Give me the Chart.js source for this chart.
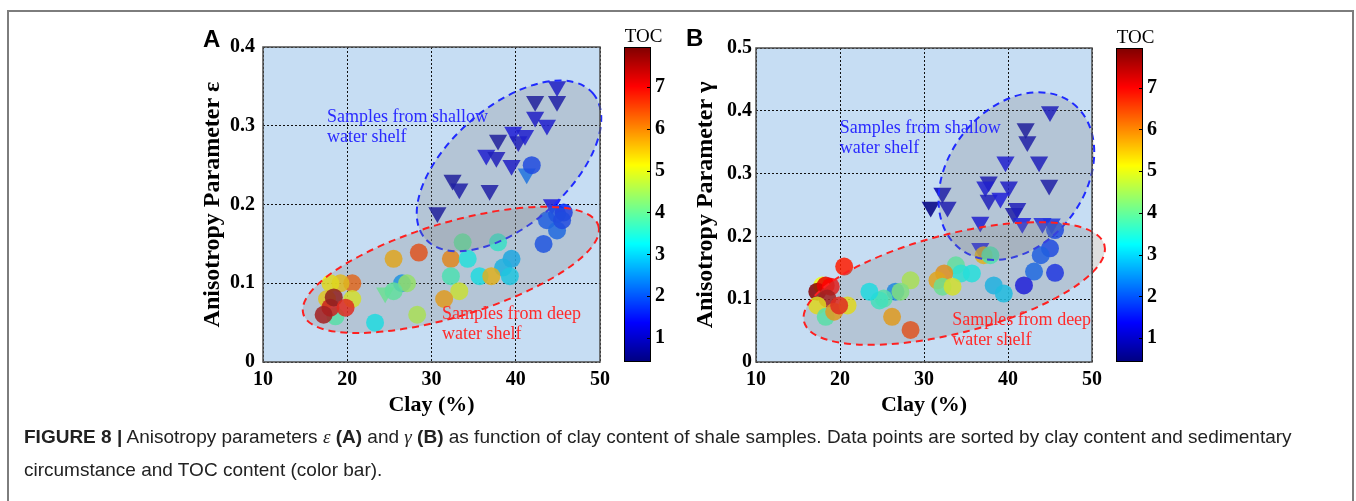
<!DOCTYPE html>
<html>
<head>
<meta charset="utf-8">
<script src="https://cdn.jsdelivr.net/npm/chart.js@4.4.1/dist/chart.umd.min.js"></script>
<style>
  body { margin: 0; background: #fff; width: 1356px; height: 501px; overflow: hidden; position: relative; font-family: "Liberation Sans", Arial, sans-serif; }
  #frame { position: absolute; left: 7px; top: 10px; width: 1347px; height: 520px; border: 2px solid #7d7d7d; border-bottom: none; box-sizing: border-box; }
  #chartA { position: absolute; left: 0; top: 0; }
  #chartB { position: absolute; left: 680px; top: 0; }
  .panel { position: absolute; font: bold 24px "Liberation Sans", Arial, sans-serif; line-height: 24px; color: #000; }
  #caption { position: absolute; left: 24px; top: 420px; font-size: 19px; line-height: 33px; color: #222; white-space: nowrap; }
  #caption b { font-weight: bold; }
  #caption i { font-family: "Liberation Serif", serif; }
</style>
</head>
<body>
<div id="frame"></div>
<canvas id="chartA" width="680" height="430"></canvas>
<canvas id="chartB" width="676" height="430"></canvas>
<div class="panel" style="left:203px; top:27px;">A</div>
<div class="panel" style="left:686px; top:26px;">B</div>
<div id="caption"><b>FIGURE 8 |</b> Anisotropy parameters <i>ε</i> <b>(A)</b> and <i>γ</i> <b>(B)</b> as function of clay content of shale samples. Data points are sorted by clay content and sedimentary<br>circumstance and TOC content (color bar).</div>
<script>
// axis ticks
const clayTicks = [10, 20, 30, 40, 50];
const epsTicks = [0, 0.1, 0.2, 0.3, 0.4];
const gammaTicks = [0, 0.1, 0.2, 0.3, 0.4, 0.5];
const tocTicks = [1, 2, 3, 4, 5, 6, 7];
const tocMin = 0.43, tocMax = 7.95;

// panel A, triangles
const aTriClay = [24.5, 41.3, 30.7, 32.5, 33.3, 36.9, 36.5, 37.7, 37.9, 39.5, 39.7, 40.3, 41.1, 42.3, 42.3, 43.7, 44.9, 44.9, 44.3];
const aTriEps  = [0.088, 0.239, 0.190, 0.231, 0.220, 0.218, 0.263, 0.260, 0.282, 0.250, 0.292, 0.280, 0.288, 0.331, 0.311, 0.301, 0.350, 0.331, 0.200];
const aTriToc  = [4.0, 2.2, 0.7, 0.7, 0.8, 0.8, 1.2, 1.0, 0.7, 1.1, 1.3, 1.0, 1.2, 0.7, 1.1, 1.2, 1.1, 0.8, 1.3];

// panel A, circles
const aDotClay = [26.5, 41.9, 43.7, 44.9, 45.7, 44.9, 45.5, 43.3, 37.9, 33.7, 32.3, 34.3, 39.5, 38.5, 39.3, 32.3, 35.7, 37.1, 33.3, 31.5, 28.3, 23.3, 28.5, 25.5, 27.1, 25.5, 20.6, 19.2, 18.0, 20.6, 17.6, 18.6, 18.0, 18.4, 19.8, 17.2];
const aDotEps  = [0.100, 0.250, 0.180, 0.188, 0.190, 0.167, 0.180, 0.150, 0.152, 0.152, 0.131, 0.131, 0.131, 0.120, 0.109, 0.109, 0.109, 0.109, 0.090, 0.080, 0.060, 0.050, 0.139, 0.131, 0.100, 0.090, 0.100, 0.100, 0.100, 0.080, 0.080, 0.058, 0.069, 0.082, 0.069, 0.060];
const aDotToc  = [2.5, 1.8, 2.0, 1.9, 1.7, 2.1, 1.8, 1.9, 3.5, 3.9, 6.0, 3.3, 2.7, 2.8, 3.0, 3.7, 3.2, 5.6, 4.9, 5.8, 4.6, 3.2, 6.5, 5.7, 4.4, 3.9, 6.3, 5.5, 5.2, 5.0, 5.4, 3.8, 7.2, 7.8, 6.9, 7.6];

// panel B, triangles
const bTriClay  = [36.7, 30.8, 32.2, 32.8, 36.7, 37.7, 37.3, 37.7, 39.7, 40.1, 39.1, 40.7, 41.1, 42.1, 42.3, 43.7, 45.0, 44.9, 41.7, 44.1, 45.2];
const bTriGamma = [0.181, 0.247, 0.269, 0.247, 0.223, 0.287, 0.279, 0.258, 0.319, 0.279, 0.261, 0.237, 0.245, 0.372, 0.351, 0.319, 0.399, 0.282, 0.221, 0.221, 0.220];
const bTriToc   = [1.4, 0.45, 0.8, 0.9, 1.2, 0.9, 1.2, 1.0, 1.2, 1.1, 1.3, 0.8, 1.0, 0.7, 0.8, 1.0, 1.0, 0.8, 1.4, 1.5, 1.6];

// panel B, circles
const bDotClay  = [26.6, 45.6, 45.0, 43.9, 43.1, 45.6, 41.9, 38.3, 39.5, 37.1, 37.9, 33.8, 34.4, 35.7, 32.4, 31.6, 32.2, 33.4, 28.4, 27.2, 25.2, 24.7, 23.5, 26.2, 28.4, 20.5, 17.9, 17.3, 18.3, 18.9, 18.5, 17.3, 18.3, 19.3, 20.9, 19.9];
const bDotGamma = [0.112, 0.210, 0.181, 0.170, 0.144, 0.142, 0.122, 0.122, 0.109, 0.170, 0.170, 0.154, 0.141, 0.141, 0.141, 0.130, 0.120, 0.120, 0.130, 0.112, 0.101, 0.098, 0.112, 0.072, 0.051, 0.152, 0.122, 0.112, 0.122, 0.120, 0.101, 0.090, 0.072, 0.080, 0.090, 0.090];
const bDotToc   = [2.4, 1.8, 1.8, 2.0, 2.1, 1.6, 1.3, 2.8, 2.9, 5.6, 3.7, 3.9, 3.4, 3.3, 5.9, 5.7, 4.0, 5.0, 4.6, 4.2, 3.8, 3.6, 3.2, 5.8, 6.5, 6.8, 5.0, 7.9, 7.2, 7.0, 7.6, 5.2, 3.8, 5.8, 5.2, 6.9];

const serif = '"Liberation Serif", "Times New Roman", serif';

function jet(t) {
  t = Math.min(1, Math.max(0, t));
  const c = v => Math.round(255 * Math.min(1, Math.max(0, v)));
  return [c(Math.min(4 * t - 1.5, -4 * t + 4.5)), c(Math.min(4 * t - 0.5, -4 * t + 3.5)), c(Math.min(4 * t + 0.5, -4 * t + 2.5))];
}
function tocColor(v, alpha) {
  const [r, g, b] = jet((v - tocMin) / (tocMax - tocMin));
  return 'rgba(' + r + ',' + g + ',' + b + ',' + alpha + ')';
}

const figurePlugin = {
  id: 'figure',
  beforeDraw(chart) {
    const {ctx, chartArea: a} = chart;
    ctx.save();
    ctx.fillStyle = '#c6ddf3';
    ctx.fillRect(a.left, a.top, a.right - a.left, a.bottom - a.top);
    ctx.restore();
  },
  afterDatasetsDraw(chart, args, opts) {
    const {ctx, scales} = chart;
    ctx.save();
    for (const e of opts.ellipses) {
      ctx.beginPath();
      ctx.ellipse(scales.x.getPixelForValue(e.x), scales.y.getPixelForValue(e.y), e.rx, e.ry, -e.angle * Math.PI / 180, 0, 2 * Math.PI);
      ctx.fillStyle = 'rgba(128,128,128,0.25)';
      ctx.fill();
      ctx.setLineDash([7, 5]);
      ctx.lineWidth = 2;
      ctx.strokeStyle = e.color;
      ctx.stroke();
    }
    ctx.setLineDash([]);
    ctx.font = '18px ' + serif;
    ctx.textBaseline = 'alphabetic';
    for (const n of opts.notes) {
      ctx.fillStyle = n.color;
      const x = scales.x.getPixelForValue(n.x), y = scales.y.getPixelForValue(n.y);
      n.lines.forEach((s, i) => ctx.fillText(s, x, y + i * 20));
    }
    ctx.restore();
  },
  afterDraw(chart) {
    const {ctx, chartArea: a} = chart;
    const toc = chart.scales.toc;
    ctx.save();
    // plot frame
    ctx.strokeStyle = '#4d4d4d';
    ctx.lineWidth = 1.5;
    ctx.strokeRect(a.left, a.top, a.right - a.left, a.bottom - a.top);
    // colour bar
    const x0 = a.right + 24, x1 = a.right + 51;
    for (let y = Math.floor(toc.top); y < toc.bottom; y++) {
      ctx.fillStyle = tocColor(toc.getValueForPixel(y + 0.5), 1);
      ctx.fillRect(x0, y, x1 - x0, 1);
    }
    ctx.strokeStyle = '#000';
    ctx.lineWidth = 1;
    ctx.strokeRect(x0 + 0.5, toc.top + 0.5, x1 - x0 - 1, toc.bottom - toc.top - 1);
    ctx.beginPath();
    for (const v of tocTicks) {
      const y = Math.round(toc.getPixelForValue(v)) + 0.5;
      ctx.moveTo(x1 - 4, y);
      ctx.lineTo(x1, y);
    }
    ctx.stroke();
    ctx.fillStyle = '#000';
    ctx.font = '19px ' + serif;
    ctx.textAlign = 'center';
    ctx.textBaseline = 'middle';
    ctx.fillText('TOC', (x0 + x1) / 2 + 6, a.top - 10);
    ctx.restore();
  }
};

function makePanel(id, o) {
  const tickFont = {family: serif, size: 20, weight: 'bold'};
  return new Chart(document.getElementById(id), {
    type: 'scatter',
    data: {
      datasets: [
        {
          data: o.dotClay.map((x, i) => ({x, y: o.dotVal[i]})),
          pointStyle: 'circle',
          pointRadius: 9,
          pointBorderWidth: 0,
          pointBackgroundColor: o.dotToc.map(t => tocColor(t, 0.85))
        },
        {
          data: o.triClay.map((x, i) => ({x, y: o.triVal[i]})),
          pointStyle: 'triangle',
          pointRotation: 180,
          pointRadius: 10.5,
          pointBorderWidth: 0,
          pointBackgroundColor: o.triToc.map(t => tocColor(t, 0.85))
        }
      ]
    },
    options: {
      responsive: false,
      animation: false,
      events: [],
      devicePixelRatio: 1,
      layout: {padding: o.padding},
      plugins: {
        legend: {display: false},
        tooltip: {enabled: false},
        figure: {ellipses: o.ellipses, notes: o.notes}
      },
      scales: {
        x: {
          type: 'linear', min: 10, max: 50,
          afterBuildTicks: s => { s.ticks = clayTicks.map(v => ({value: v})); },
          ticks: {font: tickFont, color: '#000', padding: 6},
          grid: {color: '#111', lineWidth: 1, drawTicks: false},
          border: {display: false, dash: [2, 2]},
          title: {display: true, text: 'Clay (%)', color: '#000', padding: 0, font: {family: serif, size: 22, weight: 'bold'}},
          afterFit: s => { s.height = 57; s.paddingLeft = 0; s.paddingRight = 0; }
        },
        y: {
          type: 'linear', min: 0, max: o.yMax,
          afterBuildTicks: s => { s.ticks = o.yTicks.map(v => ({value: v})); },
          ticks: {font: tickFont, color: '#000', padding: o.yPad, callback: v => v === 0 ? '0' : v.toFixed(1)},
          grid: {color: '#111', lineWidth: 1, drawTicks: false},
          border: {display: false, dash: [2, 2]},
          title: {display: true, text: o.yTitle, color: '#000', padding: 0, font: {family: serif, size: 24, weight: 'bold'}},
          afterFit: s => { s.width = 65; s.paddingTop = 0; s.paddingBottom = 0; }
        },
        toc: {
          type: 'linear', position: 'right', min: tocMin, max: tocMax,
          afterBuildTicks: s => { s.ticks = tocTicks.map(v => ({value: v})); },
          ticks: {font: tickFont, color: '#000', padding: 5},
          grid: {display: false, drawTicks: true, tickLength: 50},
          border: {display: false},
          afterFit: s => { s.width = 80; s.paddingTop = 0; s.paddingBottom = 0; }
        }
      }
    },
    plugins: [figurePlugin]
  });
}

makePanel('chartA', {
  dotClay: aDotClay, dotVal: aDotEps, dotToc: aDotToc,
  triClay: aTriClay, triVal: aTriEps, triToc: aTriToc,
  yMax: 0.4, yTicks: epsTicks, yPad: 8,
  yTitle: 'Anisotropy Parameter ε',
  padding: {left: 198, top: 47, right: 0, bottom: 11},
  ellipses: [
    {x: 39.2, y: 0.249, rx: 111, ry: 59, angle: 41, color: '#1f2bff'},
    {x: 32.3, y: 0.117, rx: 154, ry: 47, angle: 16.7, color: '#ff2020'}
  ],
  notes: [
    {x: 17.6, y: 0.305, lines: ['Samples from shallow', 'water shelf'], color: '#2a2aff'},
    {x: 31.25, y: 0.054, lines: ['Samples from deep', 'water shelf'], color: '#ff2a2a'}
  ]
});

makePanel('chartB', {
  dotClay: bDotClay, dotVal: bDotGamma, dotToc: bDotToc,
  triClay: bTriClay, triVal: bTriGamma, triToc: bTriToc,
  yMax: 0.5, yTicks: gammaTicks, yPad: 4,
  yTitle: 'Anisotropy Parameter γ',
  padding: {left: 11, top: 48, right: 184, bottom: 11},
  ellipses: [
    {x: 41.0, y: 0.296, rx: 92, ry: 68, angle: 52.3, color: '#1f2bff'},
    {x: 33.6, y: 0.125, rx: 155, ry: 49.5, angle: 14.3, color: '#ff2020'}
  ],
  notes: [
    {x: 19.97, y: 0.364, lines: ['Samples from shallow', 'water shelf'], color: '#2a2aff'},
    {x: 33.35, y: 0.059, lines: ['Samples from deep', 'water shelf'], color: '#ff2a2a'}
  ]
});
</script>
</body>
</html>
